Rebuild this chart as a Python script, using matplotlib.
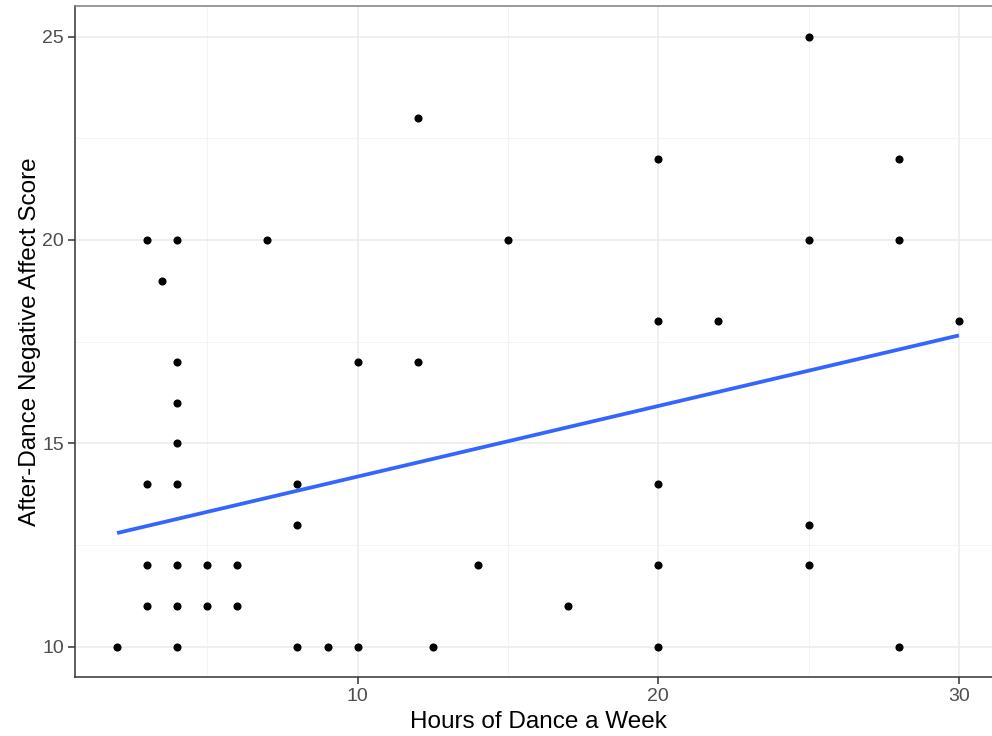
import numpy as np
import matplotlib
matplotlib.use("Agg")
import matplotlib.pyplot as plt

plt.rcParams['font.family'] = ['Liberation Sans', 'DejaVu Sans']

# Weekly dance hours and after-dance negative affect scores
hours = [2, 3, 3, 3, 3, 3.5, 4, 4, 4, 4, 4, 4, 4, 4,
         5, 5, 6, 6, 7, 8, 8, 8, 9, 10, 10, 12, 12, 12.5,
         14, 15, 17, 20, 20, 20, 20, 20, 22, 25, 25, 25, 25,
         28, 28, 28, 30]
neg_affect = [10, 20, 14, 12, 11, 19, 20, 17, 16, 15, 14, 12, 11, 10,
              12, 11, 12, 11, 20, 14, 13, 10, 10, 17, 10, 23, 17, 10,
              12, 20, 11, 22, 18, 14, 12, 10, 18, 25, 20, 13, 12,
              22, 20, 10, 18]

# Fitted linear trend (value at the smallest and largest hours)
trend_hours = [2, 30]
trend_score = [12.79, 17.65]

x_ticks = [10, 20, 30]
y_ticks = [10, 15, 20, 25]

x = np.array(hours, dtype=float)
y = np.array(neg_affect, dtype=float)

W, H = 992, 736
fig = plt.figure(figsize=(W / 100, H / 100), dpi=100)
# panel runs slightly past the right edge of the canvas
ax = fig.add_axes([75 / W, (H - 677) / H, 926 / W, 671 / H])

ax.plot(trend_hours, trend_score, color='#3366FF', lw=2.7,
        solid_capstyle='butt', zorder=3)
ax.scatter(x, y, s=34, color='black', zorder=4, linewidths=0)

xr = x.max() - x.min()
yr = y.max() - y.min()
ax.set_xlim(x.min() - 0.05 * xr, x.max() + 0.05 * xr)
ax.set_ylim(y.min() - 0.05 * yr, y.max() + 0.05 * yr)

ax.set_xticks(x_ticks)
ax.set_yticks(y_ticks)
ax.set_xticks([5, 15, 25], minor=True)
ax.set_yticks([12.5, 17.5, 22.5], minor=True)
ax.grid(True, which='major', color='#EBEBEB', lw=1.1, zorder=0)
ax.grid(True, which='minor', color='#F2F2F2', lw=0.6, zorder=0)
ax.set_axisbelow(True)
ax.tick_params(which='minor', length=0)
ax.tick_params(which='major', length=5, width=1.1, color='#333333',
               labelcolor='#4D4D4D', labelsize=14, pad=3)

for name, sp in ax.spines.items():
    sp.set_color('#333333' if name in ('left', 'bottom') else '#7F7F7F')
    sp.set_linewidth(1.1)

ax.set_xlabel('Hours of Dance a Week', fontsize=17.5, color='black', labelpad=4)
ax.set_ylabel('After-Dance Negative Affect Score', fontsize=17.5, color='black', labelpad=1)

fig.savefig('out.png', dpi=100, facecolor='white')
